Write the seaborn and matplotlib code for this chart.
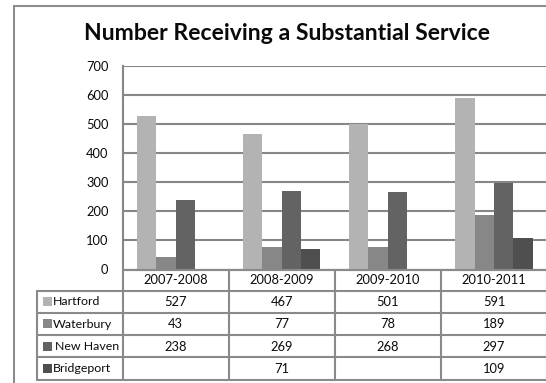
import numpy as np
import pandas as pd
import matplotlib
matplotlib.use("Agg")
import matplotlib.pyplot as plt
import matplotlib.transforms as mtransforms
from matplotlib.lines import Line2D
from matplotlib.patches import Rectangle
import seaborn as sns

# ---- data ----
categories = ["2007-2008", "2008-2009", "2009-2010", "2010-2011"]
series_names = ["Hartford", "Waterbury", "New Haven", "Bridgeport"]
hartford = [527, 467, 501, 591]
waterbury = [43, 77, 78, 189]
new_haven = [238, 269, 268, 297]
bridgeport = [np.nan, 71, np.nan, 109]
yticks = [0, 100, 200, 300, 400, 500, 600, 700]
title = "Number Receiving a Substantial Service"

colors = ["#b3b3b3", "#878787", "#636363", "#4f4f4f"]
series_values = [hartford, waterbury, new_haven, bridgeport]

rows = []
for name, vals in zip(series_names, series_values):
    for cat, v in zip(categories, vals):
        if not np.isnan(v):
            rows.append({"period": cat, "city": name, "value": v})
df = pd.DataFrame(rows)

sns.set_theme(style="white")
plt.rcParams["font.family"] = ["Lato", "DejaVu Sans"]

W, H = 546, 383
fig = plt.figure(figsize=(W / 100, H / 100), dpi=100)
fig.patch.set_facecolor("white")

grid_c = "#878787"
txt_c = "#0a0a0a"
fs = 9.3

left, right, top, bottom = 122.5, 547, 66, 269.5
ax = fig.add_axes([left / W, 1 - bottom / H, (right - left) / W, (bottom - top) / H])
sns.barplot(data=df, x="period", y="value", hue="city", order=categories,
            hue_order=series_names, palette=colors, width=0.73, saturation=1,
            edgecolor="none", linewidth=0, legend=False, ax=ax, errorbar=None)
ax.set_xlim(-0.5, 3.5)
ax.set_ylim(0, 700)
ax.set_yticks(yticks)
ax.set_yticklabels([str(t) for t in yticks], fontsize=fs, color=txt_c)
ax.set_xticks([])
ax.set_xlabel("")
ax.set_ylabel("")
ax.tick_params(axis="y", length=0, pad=10)
ax.grid(axis="y", color=grid_c, linewidth=1.5)
ax.set_axisbelow(True)
for s in ["top", "right"]:
    ax.spines[s].set_visible(False)
for s in ["left", "bottom"]:
    ax.spines[s].set_color(grid_c)
    ax.spines[s].set_linewidth(1.5)

ov2 = fig.add_axes([0, 0, 1, 1], zorder=5)
ov2.set_xlim(0, W)
ov2.set_ylim(H, 0)
ov2.axis("off")
ov2.patch.set_alpha(0)

# outer chart frame (cropped at right and bottom)
ov2.add_line(Line2D([13.5, 13.5], [6, H + 5], color="#8c8c8c", lw=1.5))
ov2.add_line(Line2D([13.5, W + 5], [6, 6], color="#8c8c8c", lw=1.5))

fig.text(286.5 / W, 1 - 33.5 / H, title, ha="center", va="center",
         fontsize=16.6, fontweight="bold", color=txt_c)

# data table
blend = mtransforms.blended_transform_factory(ax.transData, ov2.transData)
row_lines = [269.5, 290.5, 312.8, 335.1, 357.4, 379.7]
leg_left = 37
col_edges = [i - 0.5 for i in range(len(categories) + 1)]
tab_c = "#8a8a8a"

for y in row_lines:
    ov2.add_line(Line2D([col_edges[0], col_edges[-1]], [y, y], color=tab_c, lw=1.5,
                        transform=blend))
for y in row_lines[1:]:
    ov2.add_line(Line2D([leg_left, left], [y, y], color=tab_c, lw=1.5))
ov2.add_line(Line2D([leg_left, leg_left], [row_lines[1], row_lines[-1]], color=tab_c, lw=1.5))
for xe in col_edges:
    ov2.add_line(Line2D([xe, xe], [row_lines[0], row_lines[-1]], color=tab_c, lw=1.5,
                        transform=blend))

for i, cat in enumerate(categories):
    ov2.text(i, (row_lines[0] + row_lines[1]) / 2 + 0.5, cat, ha="center", va="center",
             fontsize=fs, color=txt_c, transform=blend)

label_x = [53, 53, 55, 53]
for r, (name, vals, c) in enumerate(zip(series_names, series_values, colors)):
    yc = (row_lines[r + 1] + row_lines[r + 2]) / 2
    ov2.add_patch(Rectangle((42.5, yc - 4.5), 9, 9, facecolor=c, edgecolor="none"))
    ov2.text(label_x[r], yc + 0.3, name, ha="left", va="center", fontsize=8.9, color=txt_c)
    for i, v in enumerate(vals):
        if not np.isnan(v):
            ov2.text(i, yc + 0.3, str(int(v)), ha="center", va="center", fontsize=fs,
                     color=txt_c, transform=blend)

fig.savefig("out.png", dpi=100, facecolor="white")
